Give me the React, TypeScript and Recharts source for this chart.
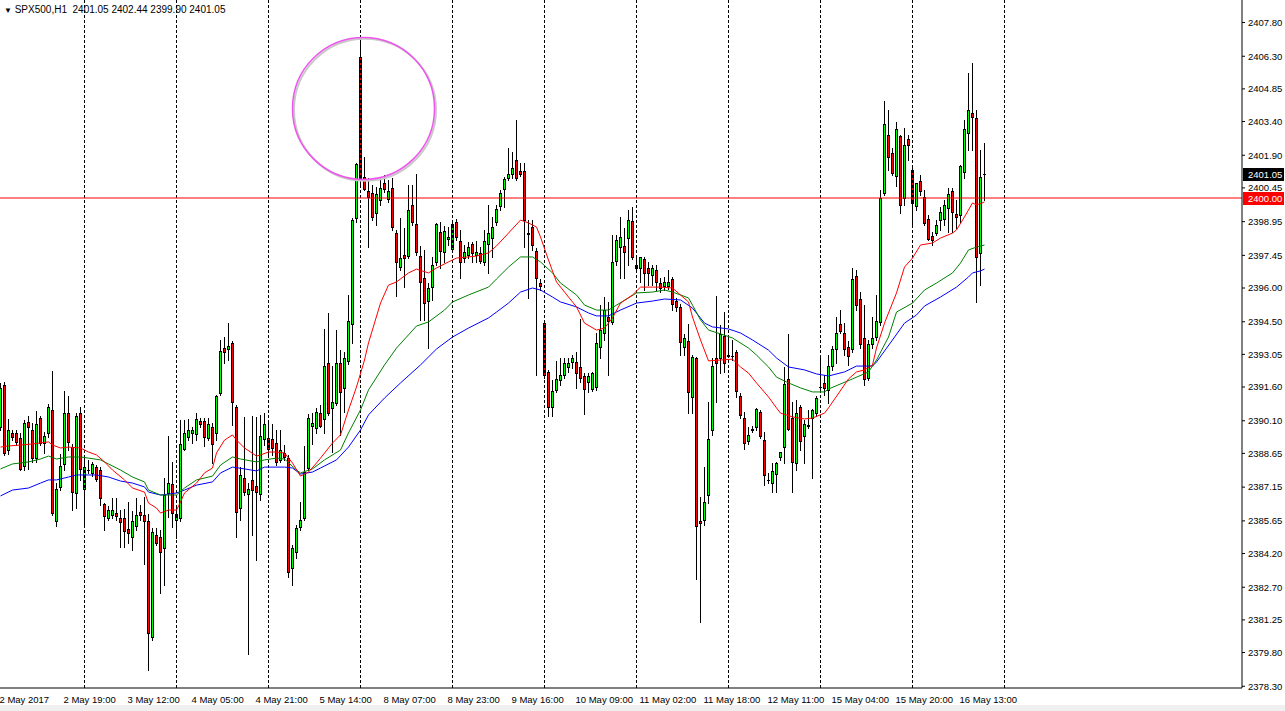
import React from 'react';
import { ComposedChart, Bar, Line, XAxis, YAxis, ReferenceLine, ReferenceDot } from 'recharts';

const SYMBOL = 'SPX500,H1';
const LAST_BAR = [2401.05, 2402.44, 2399.9, 2401.05];
const LEVEL = 2400.0;

const TIME_LABELS = [
  '2 May 2017', '2 May 19:00', '3 May 12:00', '4 May 05:00', '4 May 21:00', '5 May 14:00',
  '8 May 07:00', '8 May 23:00', '9 May 16:00', '10 May 09:00', '11 May 02:00', '11 May 18:00',
  '12 May 11:00', '15 May 04:00', '15 May 20:00', '16 May 13:00',
];
const TIME_LABEL_BARS = [0, 16, 32, 48, 64, 80, 96, 112, 128, 144, 160, 176, 192, 208, 224, 240];
const GRID_BARS = [21, 44, 67, 90, 113, 136, 159, 182, 205, 228, 251];

const PRICE_TICKS = [
  2407.8, 2406.3, 2404.85, 2403.4, 2401.9, 2400.45, 2398.95, 2397.45, 2396.0, 2394.5, 2393.05,
  2391.6, 2390.1, 2388.65, 2387.15, 2385.65, 2384.2, 2382.7, 2381.25, 2379.8, 2378.3,
];

// hourly bars: open, high, low, close
const OHLC: [number, number, number, number][] = [
  [2389.82, 2391.78, 2389.69, 2391.56], [2391.69, 2391.82, 2388.58, 2388.67], [2388.80, 2390.17, 2388.62, 2389.69],
  [2389.56, 2389.69, 2389.24, 2389.38], [2389.56, 2389.69, 2389.02, 2389.16], [2389.33, 2389.56, 2387.91, 2387.96],
  [2388.09, 2390.13, 2387.91, 2390.00], [2390.04, 2390.31, 2387.96, 2389.82], [2389.69, 2390.00, 2388.27, 2388.44],
  [2388.44, 2390.53, 2388.27, 2389.96], [2390.22, 2390.31, 2389.02, 2389.11], [2389.11, 2389.60, 2388.67, 2389.42],
  [2389.56, 2390.84, 2389.38, 2390.71], [2390.58, 2392.31, 2385.91, 2386.00], [2385.64, 2387.33, 2385.42, 2387.07],
  [2387.16, 2388.62, 2387.02, 2388.09], [2388.18, 2391.42, 2387.91, 2390.44], [2390.44, 2391.20, 2388.80, 2389.16],
  [2388.93, 2389.07, 2386.13, 2386.93], [2386.89, 2390.44, 2386.22, 2390.31], [2390.44, 2390.71, 2387.47, 2387.96],
  [2387.07, 2388.44, 2385.47, 2388.04], [2387.91, 2388.36, 2387.78, 2387.93], [2387.78, 2388.27, 2387.64, 2388.18],
  [2388.04, 2388.13, 2387.42, 2387.51], [2387.91, 2388.04, 2386.36, 2386.67], [2386.40, 2386.44, 2385.24, 2385.87],
  [2385.78, 2386.31, 2385.69, 2386.13], [2385.91, 2386.67, 2385.78, 2386.13], [2386.00, 2386.67, 2385.69, 2385.87],
  [2385.78, 2386.13, 2384.49, 2385.60], [2385.78, 2386.18, 2384.49, 2385.20], [2385.29, 2386.49, 2384.67, 2385.11],
  [2384.93, 2386.09, 2384.36, 2385.64], [2385.42, 2386.67, 2385.24, 2385.91], [2386.04, 2386.36, 2385.69, 2385.91],
  [2385.91, 2386.71, 2383.73, 2385.64], [2385.64, 2385.96, 2379.02, 2380.67], [2380.49, 2385.33, 2380.36, 2385.16],
  [2385.02, 2385.33, 2384.58, 2384.67], [2384.93, 2385.24, 2382.44, 2384.27], [2384.44, 2387.56, 2382.80, 2386.80],
  [2386.89, 2389.42, 2385.82, 2387.33], [2387.29, 2388.27, 2385.38, 2386.00], [2385.69, 2386.36, 2384.89, 2385.96],
  [2385.78, 2390.13, 2385.64, 2389.07], [2388.84, 2390.13, 2388.80, 2389.56], [2389.38, 2390.18, 2389.24, 2389.69],
  [2389.56, 2389.82, 2389.11, 2389.69], [2389.51, 2390.44, 2389.24, 2390.18], [2390.09, 2390.22, 2389.82, 2389.96],
  [2390.09, 2390.22, 2388.98, 2389.38], [2389.33, 2390.22, 2389.24, 2389.96], [2389.82, 2390.00, 2388.22, 2389.07],
  [2389.56, 2391.24, 2389.24, 2391.20], [2391.33, 2393.69, 2391.24, 2393.20], [2393.33, 2393.82, 2392.67, 2393.16],
  [2393.29, 2394.44, 2392.80, 2393.42], [2393.56, 2393.64, 2389.91, 2390.93], [2390.71, 2390.80, 2384.93, 2386.04],
  [2386.22, 2388.04, 2385.69, 2387.69], [2387.56, 2390.27, 2386.80, 2386.93], [2386.84, 2387.33, 2379.73, 2387.07],
  [2387.47, 2390.31, 2385.02, 2387.02], [2387.20, 2390.27, 2383.91, 2386.93], [2386.84, 2390.36, 2386.58, 2389.42],
  [2389.29, 2390.44, 2389.02, 2389.96], [2389.33, 2390.00, 2388.58, 2388.84], [2389.29, 2389.96, 2388.58, 2388.89],
  [2389.11, 2389.69, 2388.13, 2388.27], [2388.36, 2389.69, 2388.27, 2388.80], [2388.67, 2389.02, 2388.36, 2388.49],
  [2388.44, 2388.58, 2383.16, 2383.38], [2383.56, 2384.58, 2382.80, 2384.44], [2384.27, 2385.47, 2384.00, 2385.33],
  [2385.38, 2386.49, 2385.24, 2385.69], [2385.78, 2388.98, 2385.69, 2387.82], [2388.00, 2390.40, 2387.91, 2390.22],
  [2389.87, 2390.44, 2389.07, 2390.00], [2389.78, 2390.67, 2389.56, 2390.49], [2390.44, 2390.80, 2389.82, 2389.87],
  [2390.18, 2394.18, 2389.56, 2392.53], [2392.67, 2394.89, 2390.36, 2390.44], [2390.67, 2392.53, 2388.71, 2390.93],
  [2390.89, 2394.13, 2390.80, 2392.67], [2392.67, 2393.24, 2389.47, 2391.38], [2391.56, 2393.16, 2390.49, 2392.89],
  [2392.76, 2395.69, 2392.62, 2394.53], [2394.40, 2399.11, 2393.56, 2399.02], [2399.11, 2401.56, 2398.93, 2401.51],
  [2406.27, 2407.16, 2400.58, 2400.89], [2400.93, 2401.82, 2400.36, 2400.40], [2400.31, 2400.89, 2397.82, 2400.04],
  [2400.22, 2400.58, 2399.02, 2399.16], [2399.33, 2400.49, 2398.80, 2400.18], [2399.91, 2400.89, 2399.69, 2400.44],
  [2400.67, 2401.02, 2400.27, 2400.40], [2399.96, 2400.80, 2399.82, 2400.31], [2400.44, 2400.89, 2398.58, 2398.71],
  [2398.44, 2398.58, 2395.64, 2397.16], [2396.93, 2399.11, 2396.80, 2397.33], [2397.47, 2398.67, 2396.04, 2397.33],
  [2397.42, 2400.58, 2397.33, 2399.47], [2399.69, 2400.58, 2398.80, 2398.93], [2398.84, 2401.07, 2397.47, 2397.60],
  [2397.42, 2397.87, 2394.58, 2396.27], [2396.44, 2397.69, 2394.58, 2395.33], [2395.42, 2396.22, 2393.33, 2396.00],
  [2396.04, 2397.38, 2395.47, 2397.02], [2397.16, 2398.89, 2397.02, 2398.84], [2398.49, 2398.93, 2396.89, 2397.64],
  [2397.60, 2398.76, 2397.16, 2398.53], [2398.18, 2398.71, 2397.91, 2398.27], [2397.73, 2399.02, 2397.60, 2398.84],
  [2398.93, 2399.07, 2398.13, 2398.27], [2398.09, 2398.58, 2396.44, 2397.16], [2397.33, 2397.91, 2397.16, 2397.60],
  [2397.47, 2398.04, 2397.33, 2397.82], [2397.96, 2398.04, 2397.16, 2397.56], [2397.47, 2398.09, 2397.16, 2397.60],
  [2397.56, 2397.82, 2397.11, 2397.20], [2397.16, 2398.58, 2397.02, 2398.09], [2397.96, 2399.69, 2396.67, 2398.44],
  [2398.22, 2399.16, 2397.38, 2398.71], [2398.93, 2399.69, 2398.80, 2399.51], [2399.64, 2400.36, 2399.47, 2400.22],
  [2400.40, 2400.93, 2399.60, 2400.84], [2400.89, 2402.22, 2400.80, 2401.07], [2401.07, 2402.04, 2400.89, 2401.33],
  [2401.69, 2403.47, 2400.80, 2400.89], [2401.20, 2401.56, 2400.98, 2401.07], [2401.20, 2401.56, 2397.82, 2399.02],
  [2398.44, 2399.02, 2395.56, 2398.40], [2398.71, 2399.02, 2397.69, 2397.91], [2397.64, 2397.78, 2392.13, 2396.44],
  [2396.22, 2396.40, 2395.91, 2396.09], [2394.45, 2394.58, 2392.00, 2392.13], [2392.27, 2392.36, 2390.31, 2390.71],
  [2390.71, 2391.91, 2390.31, 2391.42], [2391.47, 2392.76, 2391.38, 2391.96], [2391.91, 2392.89, 2391.69, 2392.13],
  [2392.13, 2392.89, 2392.00, 2392.67], [2392.49, 2392.89, 2392.27, 2392.67], [2392.71, 2393.02, 2392.44, 2392.89],
  [2392.71, 2393.16, 2391.56, 2392.22], [2392.49, 2394.62, 2391.82, 2392.00], [2392.09, 2392.22, 2390.40, 2391.51],
  [2391.82, 2392.22, 2391.38, 2392.09], [2391.51, 2392.27, 2391.42, 2392.22], [2391.60, 2394.00, 2391.47, 2393.56],
  [2393.38, 2395.24, 2392.89, 2394.13], [2394.00, 2395.60, 2393.69, 2395.02], [2394.71, 2395.38, 2392.13, 2394.53],
  [2394.49, 2398.36, 2394.40, 2397.16], [2397.20, 2398.36, 2397.02, 2398.13], [2397.82, 2399.16, 2396.44, 2398.27],
  [2397.87, 2398.67, 2396.44, 2397.60], [2398.22, 2399.47, 2397.02, 2399.02], [2398.98, 2399.60, 2397.30, 2397.38],
  [2396.89, 2397.33, 2396.71, 2397.02], [2396.89, 2397.38, 2396.27, 2397.38], [2397.29, 2397.38, 2395.91, 2396.67],
  [2396.89, 2397.16, 2396.13, 2396.67], [2396.58, 2397.02, 2396.13, 2396.89], [2396.80, 2397.02, 2395.91, 2396.27],
  [2396.22, 2396.44, 2395.82, 2396.00], [2396.09, 2396.49, 2395.91, 2396.27], [2396.09, 2396.80, 2395.96, 2396.27],
  [2396.40, 2396.49, 2395.02, 2395.29], [2395.42, 2395.56, 2394.98, 2395.16], [2395.16, 2395.29, 2393.02, 2393.60],
  [2393.38, 2393.96, 2393.02, 2393.78], [2393.64, 2394.40, 2390.44, 2391.38], [2391.16, 2393.02, 2390.44, 2392.93],
  [2392.89, 2392.93, 2383.07, 2385.42], [2385.64, 2386.71, 2381.16, 2385.56], [2385.69, 2388.04, 2385.47, 2386.49],
  [2386.80, 2390.93, 2386.44, 2389.29], [2389.69, 2392.89, 2389.47, 2392.53], [2392.89, 2395.64, 2390.93, 2392.67],
  [2392.89, 2394.36, 2392.22, 2393.96], [2393.87, 2394.93, 2392.27, 2392.67], [2393.02, 2393.87, 2392.93, 2393.00],
  [2392.98, 2393.69, 2392.80, 2392.96], [2393.16, 2393.24, 2391.16, 2391.42], [2391.20, 2391.33, 2390.22, 2390.36],
  [2390.22, 2390.49, 2388.84, 2389.11], [2389.20, 2389.82, 2389.07, 2389.47], [2389.73, 2389.87, 2389.60, 2389.71],
  [2389.82, 2390.67, 2389.69, 2390.62], [2390.49, 2390.58, 2389.33, 2389.42], [2389.24, 2389.60, 2387.24, 2387.69],
  [2387.47, 2387.78, 2387.33, 2387.45], [2387.33, 2388.22, 2386.93, 2387.87], [2387.73, 2388.27, 2386.93, 2388.22],
  [2388.49, 2388.71, 2388.36, 2388.71], [2388.93, 2392.49, 2388.22, 2391.73], [2391.96, 2393.96, 2389.69, 2389.73],
  [2390.22, 2390.93, 2386.93, 2388.27], [2388.22, 2391.02, 2387.91, 2390.44], [2390.71, 2390.80, 2388.80, 2389.20],
  [2389.42, 2390.13, 2388.22, 2389.96], [2389.91, 2390.58, 2389.78, 2389.87], [2390.22, 2390.62, 2387.56, 2390.58],
  [2390.44, 2391.20, 2390.31, 2391.11], [2391.60, 2393.02, 2391.38, 2391.62], [2391.78, 2392.13, 2391.24, 2391.56],
  [2391.47, 2393.02, 2390.89, 2392.53], [2392.53, 2393.42, 2392.36, 2393.29], [2393.29, 2394.71, 2392.67, 2394.00],
  [2394.40, 2395.02, 2394.00, 2394.09], [2394.00, 2394.44, 2393.02, 2393.29], [2393.38, 2393.64, 2392.58, 2392.98],
  [2393.29, 2396.89, 2393.16, 2396.40], [2396.53, 2396.80, 2395.02, 2395.24], [2395.51, 2395.82, 2393.33, 2393.51],
  [2393.78, 2395.24, 2391.69, 2391.96], [2392.00, 2393.69, 2391.91, 2393.51], [2393.51, 2394.71, 2393.33, 2393.78],
  [2393.82, 2395.69, 2393.69, 2394.53], [2394.49, 2400.36, 2394.36, 2400.00], [2400.22, 2404.31, 2400.13, 2403.29],
  [2402.80, 2403.91, 2401.24, 2401.82], [2402.00, 2402.22, 2401.02, 2401.11], [2400.98, 2403.38, 2400.53, 2403.07],
  [2402.76, 2402.80, 2399.33, 2399.69], [2400.00, 2403.11, 2399.69, 2402.36], [2402.62, 2402.80, 2401.69, 2402.36],
  [2401.24, 2401.38, 2398.80, 2399.78], [2399.64, 2400.67, 2399.47, 2400.67], [2400.76, 2401.02, 2400.13, 2400.31],
  [2400.04, 2400.36, 2398.80, 2398.89], [2399.07, 2399.24, 2398.13, 2398.18], [2398.31, 2398.49, 2397.91, 2398.13],
  [2398.45, 2399.02, 2398.36, 2398.80], [2399.02, 2399.60, 2398.58, 2399.38], [2399.07, 2399.91, 2398.80, 2399.69],
  [2399.56, 2400.44, 2398.49, 2400.18], [2400.31, 2400.44, 2398.49, 2399.38], [2399.29, 2399.91, 2398.67, 2399.16],
  [2399.24, 2401.47, 2398.93, 2401.42], [2401.16, 2403.47, 2400.89, 2403.07], [2402.89, 2405.56, 2402.13, 2403.91],
  [2403.78, 2406.00, 2402.13, 2403.60], [2403.56, 2403.91, 2395.38, 2397.38], [2397.56, 2402.13, 2396.13, 2400.93],
  [2401.05, 2402.44, 2399.90, 2401.05],
];

// moving averages as [bar, value]
const MA_FAST: [number, number][] = [
  [0, 2388.93], [2, 2388.98], [5, 2389.02], [8, 2389.07], [12, 2389.16], [13, 2389.02], [15, 2388.89], [17, 2388.93],
  [20, 2388.89], [22, 2388.71], [24, 2388.58], [26, 2388.27], [28, 2387.91], [31, 2387.47], [33, 2387.11], [36, 2386.93],
  [37, 2386.44], [39, 2386.22], [40, 2386.0], [42, 2386.13], [44, 2386.13], [45, 2386.49], [46, 2386.89], [49, 2387.33],
  [51, 2387.78], [53, 2388.0], [54, 2388.67], [56, 2389.24], [58, 2389.47], [59, 2389.24], [61, 2388.89], [64, 2388.53],
  [65, 2388.58], [67, 2388.71], [69, 2388.71], [71, 2388.67], [73, 2388.22], [75, 2387.64], [77, 2387.82], [79, 2388.22],
  [80, 2388.44], [83, 2389.11], [85, 2389.47], [87, 2390.58], [89, 2391.6], [91, 2392.8], [92, 2393.56], [95, 2395.33],
  [97, 2396.13], [99, 2396.27], [102, 2396.67], [104, 2396.84], [107, 2396.67], [109, 2396.89], [112, 2397.16],
  [114, 2397.33], [117, 2397.38], [119, 2397.42], [122, 2397.56], [124, 2397.87], [127, 2398.44], [130, 2399.02],
  [132, 2398.89], [134, 2398.71], [135, 2398.27], [137, 2397.24], [139, 2396.27], [142, 2395.6], [144, 2395.16],
  [146, 2394.44], [149, 2394.13], [151, 2394.22], [153, 2394.67], [155, 2395.33], [158, 2395.69], [160, 2396.04],
  [163, 2396.04], [165, 2396.04], [168, 2396.0], [172, 2395.38], [173, 2394.71], [175, 2393.69], [177, 2392.76],
  [180, 2392.8], [183, 2392.84], [185, 2392.49], [187, 2392.22], [189, 2391.78], [192, 2391.16], [194, 2390.67],
  [195, 2390.44], [198, 2390.27], [201, 2390.18], [203, 2390.22], [206, 2390.44], [207, 2390.67], [212, 2391.96],
  [214, 2392.27], [216, 2392.36], [218, 2392.58], [219, 2393.33], [221, 2394.44], [224, 2395.78], [226, 2396.93],
  [228, 2397.33], [230, 2397.91], [233, 2398.0], [235, 2398.22], [238, 2398.44], [239, 2398.58], [241, 2399.16],
  [243, 2399.78], [244, 2399.69], [246, 2399.82],
];
const MA_MID: [number, number][] = [
  [0, 2387.96], [3, 2388.18], [7, 2388.27], [10, 2388.4], [12, 2388.53], [14, 2388.4], [17, 2388.49], [20, 2388.49],
  [22, 2388.44], [25, 2388.36], [27, 2388.18], [30, 2387.91], [33, 2387.6], [36, 2387.38], [37, 2387.02], [40, 2386.8],
  [42, 2386.8], [44, 2386.8], [46, 2387.11], [49, 2387.47], [53, 2387.64], [55, 2388.13], [58, 2388.49], [60, 2388.4],
  [64, 2388.27], [66, 2388.36], [69, 2388.44], [71, 2388.4], [74, 2387.91], [75, 2387.78], [78, 2387.96], [81, 2388.36],
  [85, 2388.8], [87, 2389.56], [90, 2390.58], [92, 2391.47], [96, 2392.58], [99, 2393.33], [104, 2394.31],
  [107, 2394.49], [111, 2395.02], [113, 2395.38], [117, 2395.69], [122, 2396.04], [124, 2396.4], [127, 2396.93],
  [130, 2397.38], [133, 2397.38], [135, 2397.16], [138, 2396.67], [140, 2396.22], [144, 2395.69], [146, 2395.24],
  [149, 2395.02], [152, 2395.02], [154, 2395.24], [157, 2395.56], [159, 2395.78], [163, 2395.82], [166, 2395.91],
  [168, 2395.82], [172, 2395.56], [173, 2395.24], [175, 2394.58], [177, 2394.13], [180, 2393.96], [183, 2393.78],
  [187, 2393.33], [189, 2393.02], [192, 2392.49], [194, 2392.04], [197, 2391.78], [200, 2391.56], [203, 2391.38],
  [206, 2391.38], [207, 2391.51], [213, 2391.96], [217, 2392.27], [219, 2392.8], [222, 2393.82], [224, 2394.93],
  [228, 2395.33], [231, 2395.91], [234, 2396.22], [238, 2396.67], [240, 2397.11], [242, 2397.69], [244, 2397.82],
  [246, 2397.91],
];
const MA_SLOW: [number, number][] = [
  [0, 2386.76], [3, 2387.02], [7, 2387.11], [10, 2387.33], [12, 2387.47], [14, 2387.47], [17, 2387.6], [19, 2387.69],
  [22, 2387.69], [24, 2387.69], [27, 2387.6], [30, 2387.42], [33, 2387.33], [36, 2387.16], [37, 2386.93], [40, 2386.8],
  [42, 2386.84], [44, 2386.89], [46, 2387.02], [49, 2387.24], [53, 2387.38], [55, 2387.78], [58, 2388.04], [61, 2387.96],
  [64, 2387.87], [66, 2388.04], [71, 2388.04], [73, 2388.0], [75, 2387.73], [78, 2387.82], [80, 2388.0], [84, 2388.36],
  [87, 2388.93], [90, 2389.69], [92, 2390.36], [96, 2391.11], [100, 2391.78], [105, 2392.58], [109, 2393.29],
  [113, 2393.82], [117, 2394.22], [122, 2394.67], [124, 2394.93], [127, 2395.33], [130, 2395.82], [133, 2396.0],
  [135, 2395.91], [138, 2395.6], [140, 2395.38], [144, 2395.16], [147, 2394.89], [149, 2394.76], [152, 2394.76],
  [155, 2395.02], [159, 2395.33], [163, 2395.42], [166, 2395.51], [170, 2395.47], [173, 2395.11], [176, 2394.44],
  [178, 2394.27], [182, 2394.18], [185, 2394.0], [188, 2393.69], [192, 2393.24], [194, 2392.89], [197, 2392.49],
  [201, 2392.36], [204, 2392.18], [207, 2392.09], [211, 2392.27], [214, 2392.53], [218, 2392.53], [219, 2392.71],
  [223, 2393.69], [226, 2394.44], [229, 2394.8], [231, 2395.2], [235, 2395.6], [239, 2396.04], [242, 2396.49],
  [243, 2396.67], [245, 2396.76], [246, 2396.84],
];

const FONT = '"Liberation Sans", Arial, sans-serif';
const W = 1285;
const H = 711;

const maAt = (list: [number, number][]) => {
  const m = new Map<number, number>();
  list.forEach(([i, v]) => m.set(i, v));
  return m;
};
const fast = maAt(MA_FAST);
const mid = maAt(MA_MID);
const slow = maAt(MA_SLOW);

const rows = OHLC.map(([open, high, low, close], i) => ({
  i,
  open,
  high,
  low,
  close,
  range: [low, high],
  fast: fast.get(i) ?? null,
  mid: mid.get(i) ?? null,
  slow: slow.get(i) ?? null,
}));

const Candle = (props: any) => {
  const { x, y, width, height, payload } = props;
  if (!payload || x == null || y == null) return null;
  const { open, close, high, low } = payload;
  const top = Math.min(y, y + height);
  const bottom = Math.max(y, y + height);
  const span = high - low;
  const py = (v: number) => (span === 0 ? top : top + ((high - v) / span) * (bottom - top));
  const cx = Math.floor(x + width / 2) + 0.5;
  const yo = py(open);
  const yc = py(close);
  const b1 = Math.round(Math.min(yo, yc)) + 0.5;
  const b2 = Math.round(Math.max(yo, yc)) + 0.5;
  const up = close > open;
  return (
    <g shapeRendering="crispEdges">
      <line x1={cx} x2={cx} y1={Math.round(top)} y2={Math.round(bottom) + 1} stroke="#000" strokeWidth={1} />
      {b2 - b1 < 1 ? (
        <line x1={cx - 1.5} x2={cx + 1.5} y1={b1} y2={b1} stroke="#000" strokeWidth={1} />
      ) : (
        <rect x={cx - 1} y={b1} width={2} height={b2 - b1} fill={up ? '#00ff00' : '#ff0000'} stroke="#000" strokeWidth={1} />
      )}
    </g>
  );
};

const TimeTick = (props: any) => {
  const { x, y, payload } = props;
  const k = TIME_LABEL_BARS.indexOf(payload.value);
  if (k < 0) return null;
  return (
    <text x={x - 1} y={y} dy={15} fontSize={9.5} fontFamily={FONT} fill="#000" textAnchor="start">
      {TIME_LABELS[k]}
    </text>
  );
};

const PriceTag = (props: any) => {
  const { viewBox, price, bg } = props;
  if (!viewBox) return null;
  const x = viewBox.x + viewBox.width;
  const y = Math.round(viewBox.y);
  return (
    <g shapeRendering="crispEdges">
      <rect x={x + 1} y={y - 6} width={41} height={13} fill={bg} />
      <text x={x + 6} y={y + 4} fontSize={9.5} fontFamily={FONT} fill="#fff">
        {price.toFixed(2)}
      </text>
    </g>
  );
};

export default function App() {
  return (
    <div style={{ position: 'absolute', left: 0, top: 0, width: W, height: H, background: '#fff', overflow: 'hidden' }}>
      <ComposedChart width={W} height={H} data={rows} margin={{ top: 0, right: 0, bottom: 0, left: 0 }}>
        <XAxis
          dataKey="i"
          type="number"
          domain={[-0.125, 310.375]}
          allowDataOverflow
          ticks={TIME_LABEL_BARS}
          interval={0}
          tick={<TimeTick />}
          tickLine={false}
          tickSize={0}
          tickMargin={0}
          height={23}
          axisLine={{ stroke: '#000' }}
        />
        <YAxis
          orientation="right"
          type="number"
          domain={[2408.8 - 688 / 22.5, 2408.8]}
          allowDataOverflow
          ticks={PRICE_TICKS}
          interval={0}
          width={43}
          tickSize={3}
          tickMargin={3}
          tickFormatter={(v: number) => v.toFixed(2)}
          tick={{ fill: '#000', fontSize: 9.5, fontFamily: FONT }}
          tickLine={{ stroke: '#000' }}
          axisLine={{ stroke: '#000' }}
        />
        {GRID_BARS.map((b) => (
          <ReferenceLine key={b} x={b} stroke="#000" strokeDasharray="3 2" strokeWidth={1} />
        ))}
        <Bar dataKey="range" barSize={4} shape={(p: any) => <Candle {...p} />} activeBar={false} isAnimationActive={false} />
        <Line dataKey="slow" stroke="#0000ff" strokeWidth={1} dot={false} activeDot={false} connectNulls isAnimationActive={false} />
        <Line dataKey="mid" stroke="#008000" strokeWidth={1} dot={false} activeDot={false} connectNulls isAnimationActive={false} />
        <Line dataKey="fast" stroke="#ff0000" strokeWidth={1} dot={false} activeDot={false} connectNulls isAnimationActive={false} />
        <ReferenceLine y={LEVEL} stroke="#ff0000" strokeWidth={1} label={<PriceTag price={LEVEL} bg="#ff0000" />} />
        <ReferenceLine y={LAST_BAR[3]} stroke="none" label={<PriceTag price={LAST_BAR[3]} bg="#000" />} />
        <ReferenceDot x={91.12} y={2403.92} r={71} fill="none" stroke="#c8c8c8" strokeWidth={2} />
        <ReferenceDot x={90.75} y={2403.98} r={71} fill="none" stroke="#ee55ee" strokeWidth={1.5} />
      </ComposedChart>
      <div
        style={{
          position: 'absolute', left: 4, top: 4, fontFamily: FONT, fontSize: 10, color: '#000',
          whiteSpace: 'pre', lineHeight: '12px',
        }}
      >
        <span style={{ fontSize: 8 }}>▼</span>
        {` ${SYMBOL}  ${LAST_BAR.map((v) => v.toFixed(2)).join(' ')}`}
      </div>
      <div style={{ position: 'absolute', left: 0, top: 705, width: W, height: 6, background: '#f0f0f0' }} />
    </div>
  );
}
